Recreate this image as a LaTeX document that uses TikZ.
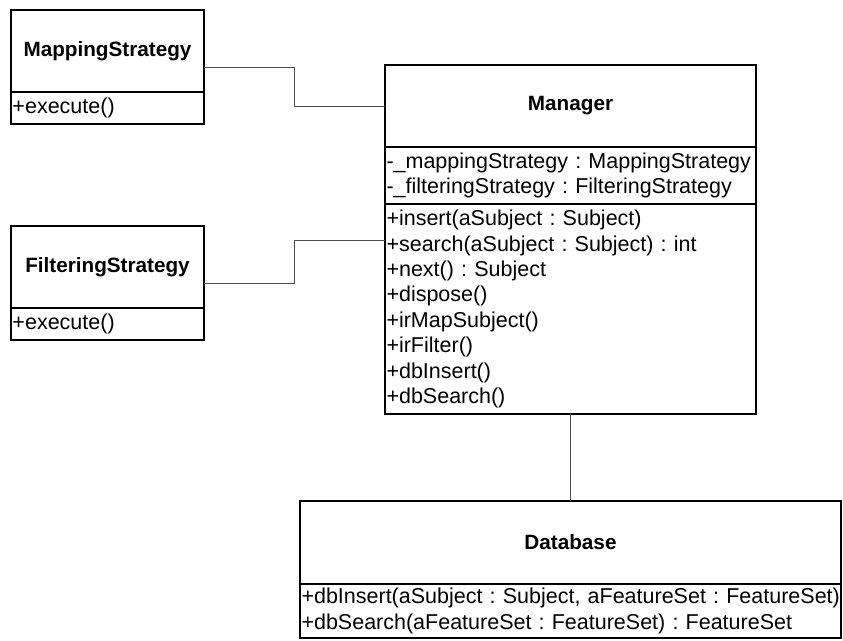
\documentclass[tikz,border=0pt]{standalone}
\usepackage{fontspec}
\setmainfont{Liberation Sans}
\usetikzlibrary{positioning,calc}

\newcommand{\bodyfont}{\fontsize{21.5}{25.4}\selectfont\frenchspacing\hyphenpenalty=10000 \exhyphenpenalty=10000 }
\tikzset{
  classname/.style={draw,line width=1.5pt,inner sep=0pt,outer sep=0pt,anchor=north west,
    minimum height=82pt,font=\bfseries\fontsize{20.7}{24}\selectfont},
  classbody/.style={draw,line width=1.5pt,inner xsep=1.5pt,inner ysep=0pt,outer sep=0pt,
    align=left,font=\bodyfont},
  assoc/.style={draw=black!70,line width=1pt}
}

\begin{document}
\begin{tikzpicture}[x=1pt,y=-1pt]
      \useasboundingbox (0,0) rectangle (843,640);
      % strategies
      \node[classname,minimum width=193pt] (mapname) at (11,10) {MappingStrategy};
      \node[classbody,text width=190pt,minimum height=32pt,below=0pt of mapname] (mapops) {+execute()};
      \node[classname,minimum width=193pt] (filname) at (11,226) {FilteringStrategy};
      \node[classbody,text width=190pt,minimum height=32pt,below=0pt of filname] (filops) {+execute()};
      % manager
      \node[classname,minimum width=371pt] (mgrname) at (385,65) {Manager};
      \node[classbody,text width=368pt,minimum height=57pt,below=0pt of mgrname] (mgrattr)
        {-\_mappingStrategy : MappingStrategy\\-\_filteringStrategy : FilteringStrategy};
      \node[classbody,text width=368pt,minimum height=210pt,below=0pt of mgrattr] (mgrops)
        {+insert(aSubject : Subject)\\+search(aSubject : Subject) : int\\+next() : Subject\\+dispose()\\
         +irMapSubject()\\+irFilter()\\+dbInsert()\\+dbSearch()};
      % database
      \node[classname,minimum width=541pt,minimum height=83pt] (dbname) at (300,501) {Database};
      \node[classbody,text width=538pt,minimum height=54pt,below=0pt of dbname] (dbops)
        {\mbox{+dbInsert(aSubject : Subject, aFeatureSet : FeatureSet)}\\\mbox{+dbSearch(aFeatureSet : FeatureSet) : FeatureSet}};
      % associations
      \coordinate (mapmid) at ($(mapname.north east)!.5!(mapops.south east)$);
      \coordinate (filmid) at ($(filname.north east)!.5!(filops.south east)$);
      \coordinate (mgrin) at ([yshift=-36pt]mgrops.north west);
      \draw[assoc] (mapmid) -- ([xshift=90pt]mapmid) |- (mgrname.west);
      \draw[assoc] (filmid) -- ([xshift=90pt]filmid) |- (mgrin);
      \draw[assoc] (mgrops.south) -- (dbname.north);
    \end{tikzpicture}
\end{document}
